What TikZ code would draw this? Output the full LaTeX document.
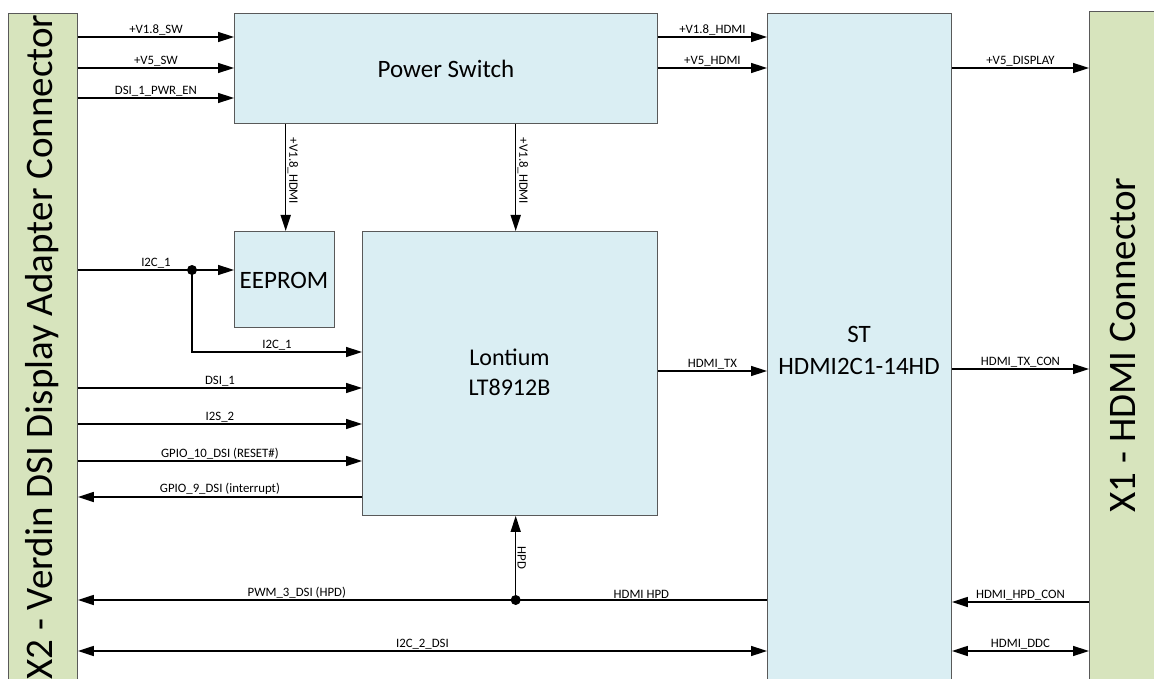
\documentclass[tikz,border=0pt]{standalone}
\usepackage{fontspec}
\setmainfont{Carlito}
\usetikzlibrary{arrows.meta}
\definecolor{boxblue}{HTML}{DAEEF3}
\definecolor{conngreen}{HTML}{D7E4BD}
\definecolor{edgegray}{HTML}{595959}
\begin{document}
\begin{tikzpicture}[x=1pt,y=-1pt,
  blk/.style={draw=edgegray, fill=boxblue, line width=0.9pt, inner sep=0pt, anchor=north west},
  cbox/.style={draw=edgegray, fill=conngreen, line width=0.9pt, inner sep=0pt, anchor=north west},
  arr/.style={line width=1.5pt, -{Triangle[length=16pt,width=10pt]}},
  darr/.style={line width=1.5pt, {Triangle[length=16pt,width=10pt]}-{Triangle[length=16pt,width=10pt]}},
  wire/.style={line width=1.5pt},
  lbl/.style={font=\fontsize{12.8}{14}\selectfont, above, inner sep=1.2pt},
  vlbl/.style={font=\fontsize{12.8}{14}\selectfont, rotate=-90, anchor=south, inner sep=1.2pt},
  jdot/.style={circle, fill=black, inner sep=0pt, minimum size=10pt},
  big/.style={font=\fontsize{39}{41}\selectfont, rotate=90, anchor=base, inner sep=0pt},
  blktext/.style={font=\fontsize{25}{32}\selectfont, align=center, inner sep=0pt},
]
\useasboundingbox (0,0) rectangle (1154,679);
\begin{scope}
\clip (0,0) rectangle (1154,679);
\node[cbox, minimum width=69pt, minimum height=700pt] (x2) at (8,13) {};
\node[cbox, minimum width=80pt, minimum height=700pt] (x1) at (1089,11) {};
\node[blk, minimum width=184pt, minimum height=700pt] (st) at (767,13) {};
\end{scope}
\node[big] (x2t) at (52.4,347) {X2 - Verdin DSI Display Adapter Connector};
\node[big] (x1t) at (1135.5,345) {X1 - HDMI Connector};
\node[blktext] (stt) at (859,350) {ST\\HDMI2C1-14HD};

\node[blk, minimum width=423pt, minimum height=110pt] (ps) at (234,13) {};
\node[blktext] (pst) at (446,69) {Power Switch};
\node[blk, minimum width=100pt, minimum height=96pt] (ee) at (234,231) {};
\node[blktext] (eet) at (284,280) {EEPROM};
\node[blk, minimum width=295pt, minimum height=284pt] (lt) at (362,231) {};
\node[blktext, font=\fontsize{24}{30}\selectfont] (ltt) at (509.5,372) {Lontium\\LT8912B};

\coordinate (r1) at (0,37);
\coordinate (r2) at (0,68);
\coordinate (r3) at (0,98);
\coordinate (ri) at (0,270);
\coordinate (rj) at (0,352);
\coordinate (rd) at (0,388);
\coordinate (rs) at (0,424);
\coordinate (rg) at (0,461);
\coordinate (rh) at (0,497);
\coordinate (rtx) at (0,371);
\coordinate (rtc) at (0,369);
\coordinate (rp) at (0,600);
\coordinate (rpc) at (0,602);
\coordinate (ri2) at (0,651);
\coordinate (c1) at (285.7,0);
\coordinate (c2) at (515.7,0);
\coordinate (cj) at (192,0);

\draw[arr] (x2.east |- r1) -- (ps.west |- r1) node[lbl, midway]{+V1.8\_SW};
\draw[arr] (x2.east |- r2) -- (ps.west |- r2) node[lbl, midway]{+V5\_SW};
\draw[arr] (x2.east |- r3) -- (ps.west |- r3) node[lbl, midway]{DSI\_1\_PWR\_EN};
\draw[arr] (ps.east |- r1) -- (st.west |- r1) node[lbl, midway]{+V1.8\_HDMI};
\draw[arr] (ps.east |- r2) -- (st.west |- r2) node[lbl, midway]{+V5\_HDMI};
\draw[arr] (st.east |- r2) -- (x1.west |- r2) node[lbl, midway]{+V5\_DISPLAY};

\draw[arr] (ps.south -| c1) -- (ee.north -| c1) node[vlbl, pos=0.44]{+V1.8\_HDMI};
\draw[arr] (ps.south -| c2) -- (lt.north -| c2) node[vlbl, pos=0.44]{+V1.8\_HDMI};

\node[jdot] (j1) at (cj |- ri) {};
\draw[arr] (x2.east |- ri) -- (ee.west |- ri) node[lbl, midway]{I2C\_1};
\draw[arr] (j1.center) |- (lt.west |- rj) node[lbl, pos=0.75]{I2C\_1};

\draw[arr] (x2.east |- rd) -- (lt.west |- rd) node[lbl, midway]{DSI\_1};
\draw[arr] (x2.east |- rs) -- (lt.west |- rs) node[lbl, midway]{I2S\_2};
\draw[arr] (x2.east |- rg) -- (lt.west |- rg) node[lbl, midway]{GPIO\_10\_DSI (RESET\#)};
\draw[arr] (lt.west |- rh) -- (x2.east |- rh) node[lbl, midway]{GPIO\_9\_DSI (interrupt)};

\draw[arr] (lt.east |- rtx) -- (st.west |- rtx) node[lbl, midway]{HDMI\_TX};
\draw[arr] (st.east |- rtc) -- (x1.west |- rtc) node[lbl, midway]{HDMI\_TX\_CON};

\node[jdot] (j2) at (c2 |- rp) {};
\draw[wire] (st.west |- rp) -- (j2.center) node[lbl, midway]{HDMI HPD};
\draw[arr] (j2.center) -- (x2.east |- rp) node[lbl, midway]{PWM\_3\_DSI (HPD)};
\draw[arr] (j2.center) -- (lt.south -| c2) node[vlbl, midway]{HPD};
\draw[arr] (x1.west |- rpc) -- (st.east |- rpc) node[lbl, midway]{HDMI\_HPD\_CON};

\draw[darr] (x2.east |- ri2) -- (st.west |- ri2) node[lbl, midway]{I2C\_2\_DSI};
\draw[darr] (st.east |- ri2) -- (x1.west |- ri2) node[lbl, midway]{HDMI\_DDC};
\end{tikzpicture}
\end{document}
